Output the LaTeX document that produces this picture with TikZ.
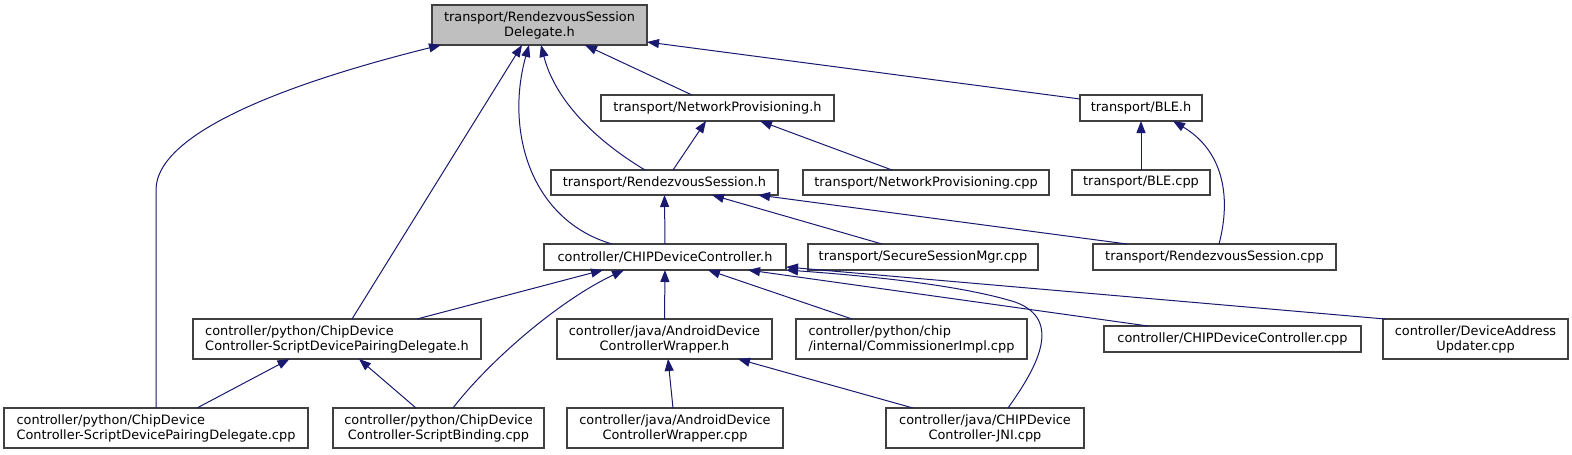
\documentclass[tikz,border=0pt]{standalone}
\usepackage{fontspec}
\setmainfont{DejaVu Sans}
\usetikzlibrary{arrows.meta}
\definecolor{edgeblue}{HTML}{191970}
\definecolor{boxline}{HTML}{404040}
\definecolor{rootfill}{HTML}{BFBFBF}
\begin{document}
\begin{tikzpicture}[x=1pt,y=-1pt,
  box/.style={draw=boxline,line width=1.1pt,fill=white,inner sep=0pt,outer sep=0pt,
    font=\fontsize{12.9}{15}\selectfont,align=center},
  lbox/.style={box,align=left},
  edge/.style={draw=edgeblue,line width=1pt,-{Triangle[length=12pt,width=9pt]}}]
\useasboundingbox (0,0) rectangle (1572,455);
\fill[white] (0,0) rectangle (1572,455);
% nodes
\node[box,fill=rootfill,minimum width=215pt,minimum height=40pt] (root) at (539.5,25) {transport/RendezvousSession\\Delegate.h};
\node[box,minimum width=233pt,minimum height=26pt] (nph) at (717.5,108) {transport/NetworkProvisioning.h};
\node[box,minimum width=122pt,minimum height=26pt] (bleh) at (1141,108) {transport/BLE.h};
\node[box,minimum width=227pt,minimum height=25pt] (rsh) at (664.5,182.5) {transport/RendezvousSession.h};
\node[box,minimum width=246pt,minimum height=25pt] (npc) at (926,182.5) {transport/NetworkProvisioning.cpp};
\node[box,minimum width=138pt,minimum height=25pt] (blec) at (1141,182.5) {transport/BLE.cpp};
\node[box,minimum width=242pt,minimum height=26pt] (cdc) at (665,257) {controller/CHIPDeviceController.h};
\node[box,minimum width=230pt,minimum height=26pt] (ssm) at (923,257) {transport/SecureSessionMgr.cpp};
\node[box,minimum width=243pt,minimum height=26pt] (rsc) at (1214.5,257) {transport/RendezvousSession.cpp};
\node[lbox,minimum width=288pt,minimum height=40pt] (py) at (337,339) {controller/python/ChipDevice\\Controller-ScriptDevicePairingDelegate.h};
\node[box,minimum width=215pt,minimum height=40pt] (awh) at (664.5,339) {controller/java/AndroidDevice\\ControllerWrapper.h};
\node[lbox,minimum width=231pt,minimum height=40pt] (ci) at (911.5,339) {controller/python/chip\\/internal/CommissionerImpl.cpp};
\node[box,minimum width=257pt,minimum height=26pt] (cdcc) at (1232.5,339) {controller/CHIPDeviceController.cpp};
\node[box,minimum width=185pt,minimum height=40pt] (dau) at (1475.5,339) {controller/DeviceAddress\\Updater.cpp};
\node[lbox,minimum width=304pt,minimum height=40pt] (pd) at (156,428) {controller/python/ChipDevice\\Controller-ScriptDevicePairingDelegate.cpp};
\node[box,minimum width=211pt,minimum height=40pt] (sb) at (438.5,428) {controller/python/ChipDevice\\Controller-ScriptBinding.cpp};
\node[box,minimum width=216pt,minimum height=40pt] (awc) at (675,428) {controller/java/AndroidDevice\\ControllerWrapper.cpp};
\node[box,minimum width=198pt,minimum height=40pt] (jni) at (985,428) {controller/java/CHIPDevice\\Controller-JNI.cpp};
% edges
\draw[edge] (pd.north) -- ++(0,-218) .. controls (156,130) and (300,80) .. ([xshift=-98.5pt]root.south);
\draw[edge] ([xshift=15pt]py.north) -- ([xshift=-17.5pt]root.south);
\draw[edge] ([xshift=-53pt]cdc.north) .. controls (530,220) and (505,130) .. ([xshift=-10.5pt]root.south);
\draw[edge] ([xshift=-19.5pt]rsh.north) .. controls (595,140) and (555,100) .. ([xshift=1.5pt]root.south);
\draw[edge] ([xshift=-25.5pt]nph.north) -- ([xshift=45.5pt]root.south);
\draw[edge] ([yshift=9pt]bleh.west) -- ([yshift=-17pt]root.east);
\draw[edge] ([xshift=8.5pt]rsh.north) -- ([xshift=-11.5pt]nph.south);
\draw[edge] ([xshift=-34pt]npc.north) -- ([xshift=42.5pt]nph.south);
\draw[edge] (blec.north) -- (bleh.south);
\draw[edge] ([xshift=4.5pt]rsc.north) .. controls (1232,195) and (1222,150) .. ([xshift=32pt]bleh.south);
\draw[edge] (cdc.north) -- (rsh.south);
\draw[edge] ([xshift=-41pt]ssm.north) -- ([xshift=47.5pt]rsh.south);
\draw[edge] ([xshift=-87.5pt]rsc.north) -- ([xshift=93.5pt]rsh.south);
\draw[edge] ([xshift=80pt]py.north) -- ([xshift=-62pt]cdc.south);
\draw[edge] ([xshift=14.5pt]sb.north) .. controls (490,360) and (560,300) .. ([xshift=-41pt]cdc.south);
\draw[edge] (awh.north) -- (cdc.south);
\draw[edge] ([xshift=-59.5pt]ci.north) -- ([xshift=43pt]cdc.south);
\draw[edge] ([xshift=-84.5pt]cdcc.north) -- ([xshift=83pt]cdc.south);
\draw[edge] ([xshift=23pt]jni.north) .. controls (1035,370) and (1065,320) .. (1015,302) .. controls (960,285) and (870,276) .. (cdc.south east);
\draw[edge] ([xshift=2pt]dau.north west) -- ([yshift=3pt]cdc.south east);
\draw[edge] ([xshift=-2pt]awc.north) -- ([xshift=3.5pt]awh.south);
\draw[edge] ([xshift=-72pt]jni.north) -- ([xshift=73.5pt]awh.south);
\draw[edge] ([xshift=41pt]pd.north) -- ([xshift=-47.5pt]py.south);
\draw[edge] ([xshift=-22.5pt]sb.north) -- ([xshift=22pt]py.south);
\end{tikzpicture}
\end{document}
